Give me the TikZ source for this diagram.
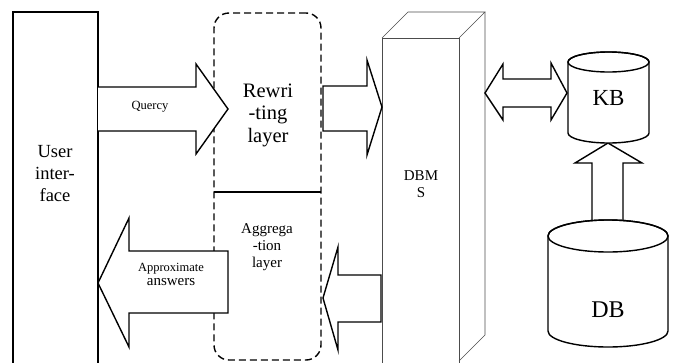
\documentclass[tikz,border=0pt]{standalone}
\usepackage{fontspec}
\setmainfont{Liberation Serif}
\newcommand\setfs[2]{\fontsize{#1}{#2}\selectfont}
\begin{document}
\begin{tikzpicture}[x=1pt,y=-1pt,line join=miter,
  blk/.style={draw=black,line width=1.4pt,fill=white},
  frame/.style={draw=black,line width=1.4pt,inner sep=0pt,outer sep=0pt},
  dbms/.style={draw=black!70,line width=0.6pt},
  lbl/.style={inner sep=0pt,outer sep=0pt,align=center}]
\useasboundingbox (0,0) rectangle (675,362);
% dashed layer box
\node[frame,dash pattern=on 7pt off 4pt,rounded corners=15pt,minimum width=107pt,minimum height=347pt,anchor=north west] (layers) at (214,13) {};
\draw[line width=1.4pt] (layers.west |- 0,192) coordinate (divl) -- (layers.east |- 0,192) coordinate (divr);
% user interface box
\node[frame,minimum width=85pt,minimum height=380pt,anchor=north west] (ui) at (13,12) {};
% DBMS cuboid
\coordinate (dfl) at (382,38);
\coordinate (dfr) at (459,38);
\coordinate (dbl) at (408,12);
\coordinate (dbr) at (485,12);
\coordinate (dbb) at (485,335);
\coordinate (dfb) at (459,361);
\draw[dbms] (dfl) rectangle (459,380);
\draw[dbms] (dfl) -- (dbl) -- (dbr) -- (dfr);
\draw[dbms] (dbr) -- (dbb) -- (dfb);
% block arrows
\draw[blk] (ui.east |- 0,87) -- (196,87) -- (196,64) -- (228,109) -- (196,154) -- (196,131) -- (ui.east |- 0,131);
\draw[blk] (228,251) -- (129,251) -- (129,218) -- (ui.east |- 0,283) -- (129,347) -- (129,313) -- (228,313) -- cycle;
\draw[blk] (323,86) -- (367,86) -- (367,60) -- (dfl |- 0,107) -- (367,155) -- (367,131) -- (323,131) -- cycle;
\draw[blk] (381,275) -- (338,275) -- (338,247) -- (323,298) -- (338,350) -- (338,322) -- (381,322) -- cycle;
\draw[blk] (dbr |- 0,93) -- (503,64) -- (503,79) -- (551,79) -- (551,63) -- (567,93) -- (551,120) -- (551,107) -- (503,107) -- (503,120) -- cycle;
\draw[blk] (592,240) -- (592,163) -- (575,163) -- (608,143) -- (642,163) -- (623,163) -- (623,240);
% KB cylinder
\filldraw[draw=black,line width=1.4pt,fill=white] (568,62) -- (568,133) arc[start angle=180,end angle=0,x radius=40.5,y radius=10] -- (649,62) arc[start angle=0,end angle=-180,x radius=40.5,y radius=10] -- cycle;
\draw[line width=1.4pt] (608.5,62) ellipse[x radius=40.5,y radius=10];
% DB cylinder
\filldraw[draw=black,line width=1.4pt,fill=white] (548,236) -- (548,331) arc[start angle=180,end angle=0,x radius=60,y radius=16] -- (668,236) arc[start angle=0,end angle=-180,x radius=60,y radius=16] -- cycle;
\draw[line width=1.4pt] (608,236) ellipse[x radius=60,y radius=16];
% labels
\node[lbl,font=\setfs{18.5}{22}] (uit) at (55,174) {User\\inter-\\face};
\node[lbl,font=\setfs{20.5}{22.5}] (rw) at (268,115) {Rewri\\-ting\\layer};
\node[lbl,font=\setfs{15}{17}] (ag) at (267,247.5) {Aggrega\\-tion\\layer};
\node[lbl,font=\setfs{12.5}{15}] (q) at (150,107) {Quercy};
\node[lbl,font=\setfs{15}{14}] (ap) at (171,274) {{\setfs{12.5}{14}Approximate}\\answers};
\node[lbl,font=\setfs{15}{17}] (dm) at (421,184) {DBM\\S};
\node[lbl,font=\setfs{23}{26}] (kb) at (608.5,98.5) {KB};
\node[lbl,font=\setfs{24}{26}] (db) at (608,309.5) {DB};
\end{tikzpicture}
\end{document}
